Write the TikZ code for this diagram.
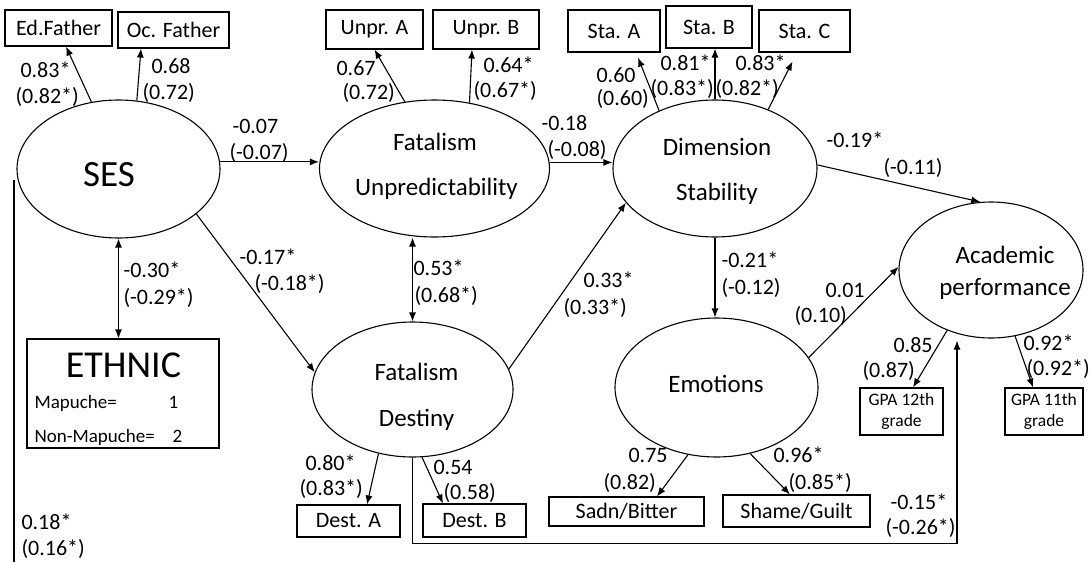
\documentclass[tikz,border=0pt]{standalone}
\usepackage{fontspec}
\setmainfont{Carlito}
\usetikzlibrary{shapes.geometric,arrows.meta,calc}

\begin{document}
\begin{tikzpicture}[x=1pt,y=-1pt,
  line width=1.1pt,
  arr/.style={-{Latex[length=9pt,width=7pt]}},
  darr/.style={{Latex[length=9pt,width=7pt]}-{Latex[length=9pt,width=7pt]}},
  lat/.style={ellipse,draw,inner sep=0pt},
  obs/.style={rectangle,draw,inner sep=0pt,font=\fontsize{22}{26}\selectfont},
  gpa/.style={obs,align=center,minimum width=80pt,minimum height=47pt,font=\fontsize{17.5}{21}\selectfont},
  lab/.style={anchor=base west,inner sep=0pt,font=\fontsize{22}{26}\selectfont},
  ltx/.style={anchor=base,inner sep=0pt,font=\fontsize{25}{30}\selectfont},
  small/.style={anchor=base west,inner sep=0pt,font=\fontsize{19}{22}\selectfont},
]
\useasboundingbox (0,0) rectangle (1091,562);

% latent variables
\node[lat,minimum width=203pt,minimum height=138pt] (ses) at (118.5,169) {};
\node[lat,minimum width=230pt,minimum height=137pt] (fu) at (434.5,168.5) {};
\node[lat,minimum width=204pt,minimum height=137pt] (ds) at (715,168.5) {};
\node[lat,minimum width=184pt,minimum height=136pt] (ap) at (991,270) {};
\node[lat,minimum width=203pt,minimum height=139pt] (em) at (716.5,387.5) {};
\node[lat,minimum width=201pt,minimum height=135pt] (fd) at (412.5,389.5) {};

% latent variable names
\node[anchor=base,inner sep=0pt,font=\fontsize{37}{40}\selectfont] (sesT) at (109,186) {SES};
\node[ltx] (fuT1) at (435,150) {Fatalism};
\node[ltx] (fuT2) at (436.5,195) {Unpredictability};
\node[ltx] (fdT1) at (416.5,380) {Fatalism};
\node[ltx] (fdT2) at (416.5,426) {Destiny};
\node[ltx] (dsT1) at (717,155) {Dimension};
\node[ltx] (dsT2) at (717,200) {Stability};
\node[ltx] (emT) at (716,392) {Emotions};
\node[ltx] (apT1) at (1005,263) {Academic};
\node[ltx] (apT2) at (1005,295) {performance};

% observed indicators
\node[obs,minimum width=107pt,minimum height=36pt] (edf) at (58.5,28) {Ed.Father};
\node[obs,minimum width=111pt,minimum height=36pt] (ocf) at (173.5,30) {Oc. Father};
\node[obs,minimum width=97pt,minimum height=39pt] (upa) at (374.5,29.5) {Unpr. A};
\node[obs,minimum width=106pt,minimum height=39pt] (upb) at (486,29.5) {Unpr. B};
\node[obs,minimum width=92pt,minimum height=42pt] (sta) at (614,31) {Sta. A};
\node[obs,minimum width=86pt,minimum height=42pt] (stb) at (709,27) {Sta. B};
\node[obs,minimum width=91pt,minimum height=42pt] (stc) at (804.5,31) {Sta. C};
\node[obs,minimum width=103pt,minimum height=32pt] (dsa) at (348.5,521) {Dest. A};
\node[obs,minimum width=103pt,minimum height=33pt] (dsb) at (474.5,520.5) {Dest. B};
\node[obs,minimum width=155pt,minimum height=29pt] (sad) at (626.5,511.5) {Sadn/Bitter};
\node[obs,minimum width=147pt,minimum height=32pt] (shg) at (796.5,511) {Shame/Guilt};
\node[gpa,minimum width=83pt] (g12) at (901.5,411.5) {GPA 12th\\grade};
\node[gpa,minimum width=78pt] (g11) at (1044,411.5) {GPA 11th\\grade};

% ethnic group box
\node[obs,minimum width=192pt,minimum height=109pt] (eth) at (123,393.5) {};
\node[anchor=base,inner sep=0pt,font=\fontsize{38}{42}\selectfont] (ethT) at (123.5,377) {ETHNIC};
\node[small] (m1) at (34,408) {Mapuche=};
\node[small] (m1v) at (168,408) {1};
\node[small] (m2) at (34,442) {Non-Mapuche=};
\node[small] (m2v) at (172,442) {2};

% measurement paths
\draw[arr] (ses.112) -- ($(edf.south)+(7.5,0)$);
\draw[arr] (ses.75) -- ($(ocf.south)+(-32.5,0)$);
\draw[arr] (fu.114) -- (upa.south);
\draw[arr] (fu.62) -- ($(upb.south)+(-14,0)$);
\draw[arr] (ds.134) -- ($(sta.south)+(24,5)$);
\draw[arr] (ds.north) -- ($(stb.south)+(6,0)$);
\draw[arr] (ds.48) -- ($(stc.south)+(-12,9)$);
\draw[arr] (ap.234) -- ($(g12.north)+(11.5,0)$);
\draw[arr] (ap.290) -- ($(g11.north)+(-11,0)$);
\draw[arr] (fd.242) -- ($(dsa.north)+(18.5,0)$);
\draw[arr] (fd.278) -- ($(dsb.north)+(-31.5,0)$);
\draw[arr] (em.247) -- ($(sad.north)+(30.5,0)$);
\draw[arr] (em.297) -- ($(shg.north)+(-6.5,0)$);

% structural paths
\draw[arr] (ses.4) -- (ses.4 -| fu.west);
\draw[arr] (fu.3) -- (fu.3 -| ds.west);
\draw[arr] (ds.2) -- (ap.99);
\draw[darr] (ses.south) -- (ses.south |- eth.north);
\draw[arr] (ses.330) -- (fd.170);
\draw[darr] (fd.north |- fu.south) -- (fd.north);
\draw[arr] (fd.12) -- (ds.201);
\draw[arr] (ds.south) -- (ds.south |- em.north);
\draw[arr] (em.18) -- (ap.178);
\draw[arr] (fd.south) -- ++(0,86) -| ($(ap.south)+(-34,2)$);
\coordinate (vt) at (14,180);
\coordinate (vb) at (14,562);
\draw (vt) -- (vb);

% coefficients
\node[lab] (c1a) at (20,77) {0.83*};
\node[lab] (c1b) at (15,103) {(0.82*)};
\node[lab] (c2a) at (151,73) {0.68};
\node[lab] (c2b) at (142,99) {(0.72)};
\node[lab] (c3a) at (232,133) {-0.07};
\node[lab] (c3b) at (229,159) {(-0.07)};
\node[lab] (c4a) at (336,75) {0.67};
\node[lab] (c4b) at (342,99) {(0.72)};
\node[lab] (c5a) at (483,72) {0.64*};
\node[lab] (c5b) at (473,97) {(0.67*)};
\node[lab] (c6a) at (541,130) {-0.18};
\node[lab] (c6b) at (547,156) {(-0.08)};
\node[lab] (c7a) at (596,82) {0.60};
\node[lab] (c7b) at (596,105) {(0.60)};
\node[lab] (c8a) at (660,70) {0.81*};
\node[lab] (c8b) at (650,95) {(0.83*)};
\node[lab] (c9a) at (735,70) {0.83*};
\node[lab] (c9b) at (715,95) {(0.82*)};
\node[lab] (c10a) at (826,147) {-0.19*};
\node[lab] (c10b) at (883,174) {(-0.11)};
\node[lab] (c11a) at (123,277) {-0.30*};
\node[lab] (c11b) at (123,304) {(-0.29*)};
\node[lab] (c12a) at (239,264) {-0.17*};
\node[lab] (c12b) at (254,290) {(-0.18*)};
\node[lab] (c13a) at (413,275) {0.53*};
\node[lab] (c13b) at (414,302) {(0.68*)};
\node[lab] (c14a) at (583,287) {0.33*};
\node[lab] (c14b) at (563,314) {(0.33*)};
\node[lab] (c15a) at (721,267) {-0.21*};
\node[lab] (c15b) at (721,294) {(-0.12)};
\node[lab] (c16a) at (825,297) {0.01};
\node[lab] (c16b) at (794,322) {(0.10)};
\node[lab] (c17a) at (893,352) {0.85};
\node[lab] (c17b) at (862,377) {(0.87)};
\node[lab] (c18a) at (1023,350) {0.92*};
\node[lab] (c18b) at (1026,375) {(0.92*)};
\node[lab] (c19a) at (305,470) {0.80*};
\node[lab] (c19b) at (299,495) {(0.83*)};
\node[lab] (c20a) at (433,474) {0.54};
\node[lab] (c20b) at (443,499) {(0.58)};
\node[lab] (c21a) at (628,462) {0.75};
\node[lab] (c21b) at (603,489) {(0.82)};
\node[lab] (c22a) at (773,462) {0.96*};
\node[lab] (c22b) at (788,489) {(0.85*)};
\node[lab] (c23a) at (890,509) {-0.15*};
\node[lab] (c23b) at (885,534) {(-0.26*)};
\node[lab] (c24a) at (21,529) {0.18*};
\node[lab] (c24b) at (21,555) {(0.16*)};
\end{tikzpicture}
\end{document}
